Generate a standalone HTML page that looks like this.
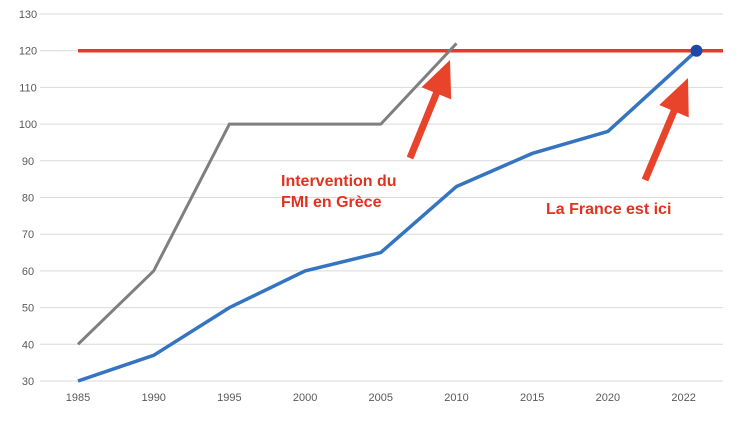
<!DOCTYPE html>
<html><head><meta charset="utf-8"><style>
body{margin:0;background:#fff;}
svg{display:block;font-family:"Liberation Sans",sans-serif;}
</style></head><body>
<svg id="c" width="738" height="433"></svg>
<script>
const categories=["1985","1990","1995","2000","2005","2010","2015","2020","2022"];
const yTicks=[30,40,50,60,70,80,90,100,110,120,130];
const greyValues=[40,60,100,100,100,122];
const blueValues=[30,37,50,60,65,83,92,98,120];
const thresholdValue=120;
const svg=document.getElementById('c');
const NS='http://www.w3.org/2000/svg';
const x=i=>78+i*75.7;
const y=v=>381-(v-30)*3.67;
function mk(t,a,p){const e=document.createElementNS(NS,t);for(const k in a)e.setAttribute(k,a[k]);(p||svg).appendChild(e);return e;}
yTicks.forEach(v=>{
 const l=mk('line',{x1:40,x2:723,y1:y(v),y2:y(v),stroke:'#d9d9d9','stroke-width':1});
 
 
 const t=mk('text',{x:28,y:y(v)+4,'font-size':11,fill:'#595959','text-anchor':'middle'});t.textContent=v;
 
 
});
categories.forEach((c,i)=>{
 const t=mk('text',{x:x(i),y:401,'font-size':11,fill:'#595959','text-anchor':'middle'});t.textContent=c;
 
 
});
const th=mk('line',{x1:x(0),x2:723,y1:y(thresholdValue),y2:y(thresholdValue),stroke:'#e8382a','stroke-width':3.5});


const gp=mk('polyline',{points:greyValues.map((v,i)=>x(i)+','+y(v)).join(' '),fill:'none',stroke:'#7f7f7f','stroke-width':3});


const bpts=blueValues.map((v,i)=>[i===blueValues.length-1?x(i+0.17):x(i),y(v)]);
const bp=mk('polyline',{points:bpts.map(p=>p.join(',')).join(' '),fill:'none',stroke:'#3474c0','stroke-width':3.5});


const last=bpts[bpts.length-1];
const dot=mk('circle',{cx:last[0],cy:last[1],r:6,fill:'#1f47a8'});


function arrow(x0,y0,x1,y1,name){
 const dx=x1-x0,dy=y1-y0,L=Math.hypot(dx,dy),ux=dx/L,uy=dy/L,px=-uy,py=ux;
 const hl=36,hw=16,sw=3.5;
 const bx=x1-ux*hl,by=y1-uy*hl;
 const pts=[[x0+px*sw,y0+py*sw],[bx+px*sw,by+py*sw],[bx+px*hw,by+py*hw],[x1,y1],[bx-px*hw,by-py*hw],[bx-px*sw,by-py*sw],[x0-px*sw,y0-py*sw]];
 const a=mk('polygon',{points:pts.map(p=>p.join(',')).join(' '),fill:'#e8432b'});
 
 
}
arrow(410,158,450,60,'greece-arrow');
arrow(645,180,688,78,'france-arrow');
function label(lines,xx,yy,name){
 const t=mk('text',{x:xx,y:yy,'font-size':16,'font-weight':'bold',fill:'#e0331f'});
 lines.forEach((s,i)=>{const ts=mk('tspan',{x:xx,dy:i?21:0},t);ts.textContent=s;});
 
 
}
label(['Intervention du','FMI en Grèce'],281,186,'greece-annotation');
label(['La France est ici'],546,214,'france-annotation');
</script>
</body></html>
